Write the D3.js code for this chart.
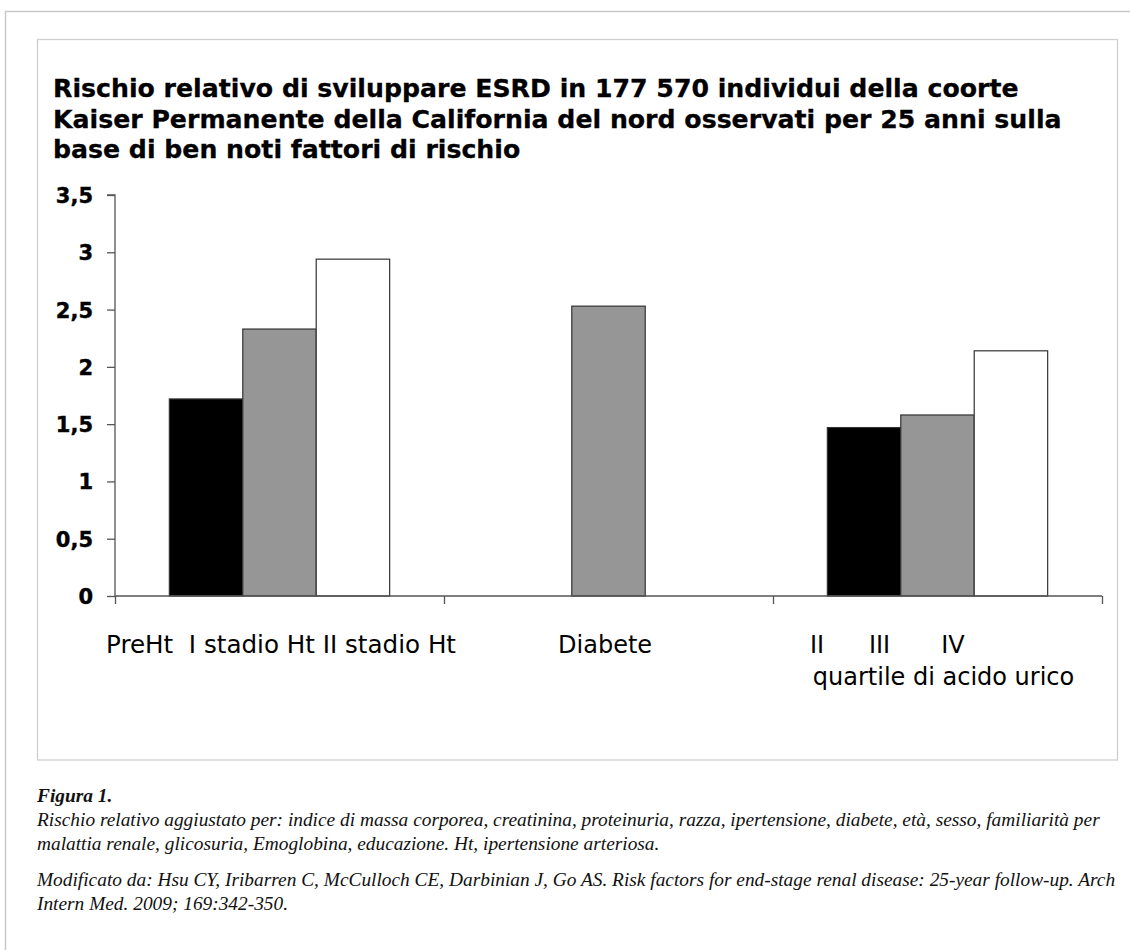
<!DOCTYPE html>
<html><head><meta charset="utf-8">
<script src="https://cdn.jsdelivr.net/npm/d3@7"></script>
<style>body{margin:0;background:#fff;} svg{display:block;}</style>
</head><body>
<svg id="c" width="1130" height="950"></svg>
<script>
const groups = ["ht", "diab", "uric"];
const series = ["s1", "s2", "s3"];
const s1Values = [1.72, null, 1.47];
const s2Values = [2.33, 2.53, 1.58];
const s3Values = [2.94, null, 2.14];
const seriesColors = ["#000000", "#969696", "#ffffff"];
const yTicks = [0, 0.5, 1, 1.5, 2, 2.5, 3, 3.5];
const yTickLabels = ["0", "0,5", "1", "1,5", "2", "2,5", "3", "3,5"];
const titleLines = [
  "Rischio relativo di sviluppare ESRD in 177 570 individui della coorte",
  "Kaiser Permanente della California del nord osservati per 25 anni sulla",
  "base di ben noti fattori di rischio"
];
const groupLabelLine1 = ["PreHt\u00A0\u00A0I stadio Ht II stadio Ht", "Diabete", null];
const uricSubLabels = ["II", "III", "IV"];
const groupLabelLine2 = [null, null, "quartile di acido urico"];
const captionTitle = "Figura 1.";
const captionLines = [
  "Rischio relativo aggiustato per: indice di massa corporea, creatinina, proteinuria, razza, ipertensione, diabete, età, sesso, familiarità per",
  "malattia renale, glicosuria, Emoglobina, educazione. Ht, ipertensione arteriosa."
];
const sourceLines = [
  "Modificato da: Hsu CY, Iribarren C, McCulloch CE, Darbinian J, Go AS. Risk factors for end-stage renal disease: 25-year follow-up. Arch",
  "Intern Med. 2009; 169:342-350."
];

const svg = d3.select("#c");
const valuesBySeries = [s1Values, s2Values, s3Values];
const data = [];
groups.forEach((g, gi) => series.forEach((s, si) => {
  const v = valuesBySeries[si][gi];
  if (v != null) data.push({g, s, v, color: seriesColors[si]});
}));

// frames
svg.append("path").attr("d", "M5.5,950 V11.5 H1130").attr("fill", "none").attr("stroke", "#c8c8c8").attr("stroke-width", 1.5);
svg.append("rect").attr("x", 37.5).attr("y", 39.5).attr("width", 1080).attr("height", 720.5)
  .attr("fill", "#fff").attr("stroke", "#cfcfcf").attr("stroke-width", 1.3);

// title
svg.append("g").selectAll("text").data(titleLines).join("text")
  .attr("x", 53).attr("y", (d, i) => 97 + i * 30.7)
  .attr("font-family", "'DejaVu Sans', Verdana, sans-serif").attr("font-weight", "bold")
  .attr("font-size", 25.2).attr("fill", "#000").attr("stroke", "#000").attr("stroke-width", 0.3)
  .text(d => d);

const plotL = 115, plotR = 1102, plotT = 195, plotB = 596;
const y = d3.scaleLinear().domain([0, 3.5]).range([plotB, plotT]);
const x0 = d3.scaleBand().domain(groups).range([plotL, plotR]).paddingInner(0).paddingOuter(0);
const x1 = d3.scaleBand().domain(series).range([0, x0.bandwidth()]).paddingInner(0).paddingOuter(0.74);

// bars
svg.append("g").selectAll("rect").data(data).join("rect")
  .attr("x", d => x0(d.g) + x1(d.s))
  .attr("y", d => y(d.v))
  .attr("width", x1.bandwidth())
  .attr("height", d => y(0) - y(d.v))
  .attr("fill", d => d.color)
  .attr("stroke", "#333").attr("stroke-width", 1.2);

// y axis
const yAxis = d3.axisLeft(y).tickValues(yTicks).tickSize(8).tickPadding(14)
  .tickFormat((d, i) => yTickLabels[i]);
const ya = svg.append("g").attr("transform", `translate(${plotL},0)`).call(yAxis);
ya.select(".domain").attr("stroke", "#555").attr("stroke-width", 1.3).attr("d", `M-8,${plotT}H0V${plotB}`);
ya.selectAll(".tick line").attr("stroke", "#555").attr("stroke-width", 1.3);
ya.selectAll(".tick text").attr("font-family", "'DejaVu Sans', Verdana, sans-serif")
  .attr("font-weight", "bold").attr("font-size", 21).attr("fill", "#000")
  .attr("stroke", "#000").attr("stroke-width", 0.4).attr("dy", "0.36em");

// x axis (ticks at group boundaries)
const xb = d3.scaleLinear().domain([0, groups.length]).range([plotL, plotR]);
const xAxis = d3.axisBottom(xb).tickValues(d3.range(groups.length + 1))
  .tickSize(8).tickFormat("");
const xa = svg.append("g").attr("transform", `translate(0,${plotB})`).call(xAxis);
xa.select(".domain").attr("stroke", "#555").attr("stroke-width", 1.3).attr("d", `M${plotL},0H${plotR}`);
xa.selectAll(".tick line").attr("stroke", "#555").attr("stroke-width", 1.3);

// category labels
const labelFont = "'DejaVu Sans', Verdana, sans-serif";
const lbl = svg.append("g").attr("font-family", labelFont).attr("font-size", 24).attr("fill", "#000")
  .attr("text-anchor", "middle");
const line1Offsets = [1.5, -3.4, 0];
groups.forEach((g, gi) => {
  const c = x0(g) + x0.bandwidth() / 2;
  if (groupLabelLine1[gi]) {
    const t = lbl.append("text").attr("x", c + line1Offsets[gi]).attr("y", 653).text(groupLabelLine1[gi]);
    if (gi === 0) t.attr("font-size", 24.6);
  }
  if (groupLabelLine2[gi]) lbl.append("text").attr("x", c + 6).attr("y", 685).text(groupLabelLine2[gi]);
});
const subOffsets = [-47, -58, -58];
series.forEach((s, si) => {
  lbl.append("text").attr("x", x0("uric") + x1(s) + x1.bandwidth() / 2 + subOffsets[si]).attr("y", 653).text(uricSubLabels[si]);
});

// caption (condensed italic serif)
const capFont = "'Liberation Serif', 'DejaVu Serif', serif";
const capX = 37;
const cap = svg.append("g").attr("font-family", capFont).attr("font-style", "italic").attr("fill", "#111");
cap.append("text").attr("class", "t").attr("x", 0).attr("y", 802).attr("font-weight", "bold").attr("font-size", 18).text(captionTitle);
const capTexts = cap.selectAll("text.c").data(captionLines.concat(sourceLines)).join("text").attr("class", "c")
  .attr("x", 0).attr("y", (d, i) => [826, 850, 886, 910][i]).attr("font-size", 18).text(d => d);
const w0 = capTexts.nodes()[0].getComputedTextLength();
const k = 1063 / w0;
cap.attr("transform", `translate(${capX},0) scale(${k},1)`);
</script>
</body></html>
